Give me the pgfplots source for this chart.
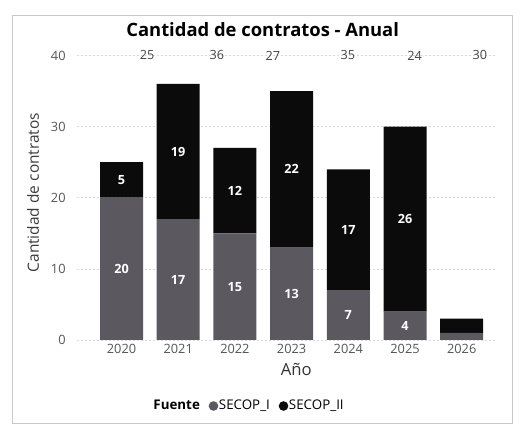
\documentclass[border=0pt]{standalone}
\usepackage{pgfplots}
\pgfplotsset{compat=1.18}
\usepackage{fontspec}
\setmainfont{Open Sans}
\definecolor{secopi}{HTML}{5B5860}
\definecolor{secopii}{HTML}{0B0B0B}
\definecolor{ticktxt}{HTML}{555555}
\definecolor{framec}{HTML}{C8C8C8}

\begin{document}
\begin{tikzpicture}
% page size and outer frame
\path (0pt,0pt) rectangle (391.5pt,318pt);
\draw[framec, line width=0.6pt] (9pt,0.75pt) rectangle (384pt,306.75pt);
\node[font=\bfseries\fontsize{13.8}{16}\selectfont] at (197pt,295.5pt) {Cantidad de contratos - Anual};

\pgfplotsset{
  common/.style={
    scale only axis,
    at={(57.75pt,63pt)}, anchor=south west,
    width=313.9pt, height=213.4pt,
    xmin=-0.785, xmax=6.596,
    ymin=0, ymax=40,
  }
}

\begin{axis}[
    common,
    ybar stacked,
    bar width=32.25pt,
    axis line style={draw=none},
    tick style={draw=none},
    xtick={0,1,2,3,4,5,6},
    xticklabels={2020,2021,2022,2023,2024,2025,2026},
    ytick={0,10,20,30,40},
    ymajorgrids,
    major grid style={dash pattern=on 1.5pt off 1.5pt, gray!30, line width=0.5pt},
    tick label style={font=\fontsize{9.6}{11}\selectfont, text=ticktxt},
    /pgf/number format/assume math mode=true,
    yticklabel style={xshift=-5pt},
    xlabel={Año},
    xlabel style={font=\fontsize{12.5}{14}\selectfont, text=ticktxt!60!black, at={(axis description cs:0.524,-0.103)}, anchor=center},
    ylabel={Cantidad de contratos},
    ylabel style={font=\fontsize{11.6}{13}\selectfont, text=ticktxt!70!black, at={(axis description cs:-0.105,0.518)}, anchor=center},
    legend style={draw=none, fill=none, legend columns=-1,
      at={(axis description cs:0.41,-0.232)}, anchor=center,
      font=\fontsize{10}{12}\selectfont,
      nodes={inner xsep=0.5pt},
      /tikz/every even column/.append style={column sep=6pt}},
    legend cell align=left,
]
\addlegendimage{empty legend}
\addlegendentry{\textbf{Fuente}}
\addplot[fill=secopi, draw=none,
  legend image code/.code={\path (0cm,0cm) -- (0.22cm,0cm);\fill[secopi] (0.13cm,0cm) circle (3.6pt);}]
  coordinates {(0,20) (1,17) (2,15) (3,13) (4,7) (5,4) (6,1)};
\addlegendentry{SECOP\_I}
\addplot[fill=secopii, draw=none,
  legend image code/.code={\path (0cm,0cm) -- (0.22cm,0cm);\fill[secopii] (0.13cm,0cm) circle (3.6pt);}]
  coordinates {(0,5) (1,19) (2,12) (3,22) (4,17) (5,26) (6,2)};
\addlegendentry{SECOP\_II}
\end{axis}

% labels: segment values and the totals row as drawn in the source
\begin{axis}[common, hide axis, clip=false,
    nodes near coords, point meta=explicit symbolic,
    nodes near coords align={center}]
\addplot[draw=none, mark=none,
  every node near coord/.append style={anchor=center, text=white,
    font=\bfseries\fontsize{9.5}{11}\selectfont}]
  coordinates {
    (0,10)[20] (1,8.5)[17] (2,7.5)[15] (3,6.5)[13] (4,3.5)[7] (5,2)[4]
    (0,22.5)[5] (1,26.5)[19] (2,21)[12] (3,24)[22] (4,15.5)[17] (5,17)[26]
  };
\addplot[draw=none, mark=none,
  every node near coord/.append style={anchor=center, text=ticktxt!80!black,
    font=\fontsize{9.5}{11}\selectfont}]
  coordinates {
    (0.45,40)[25] (1.68,40)[36] (2.67,40)[27] (3.99,40)[35] (5.17,40)[24] (6.32,40)[30]
  };
\end{axis}
\end{tikzpicture}
\end{document}
